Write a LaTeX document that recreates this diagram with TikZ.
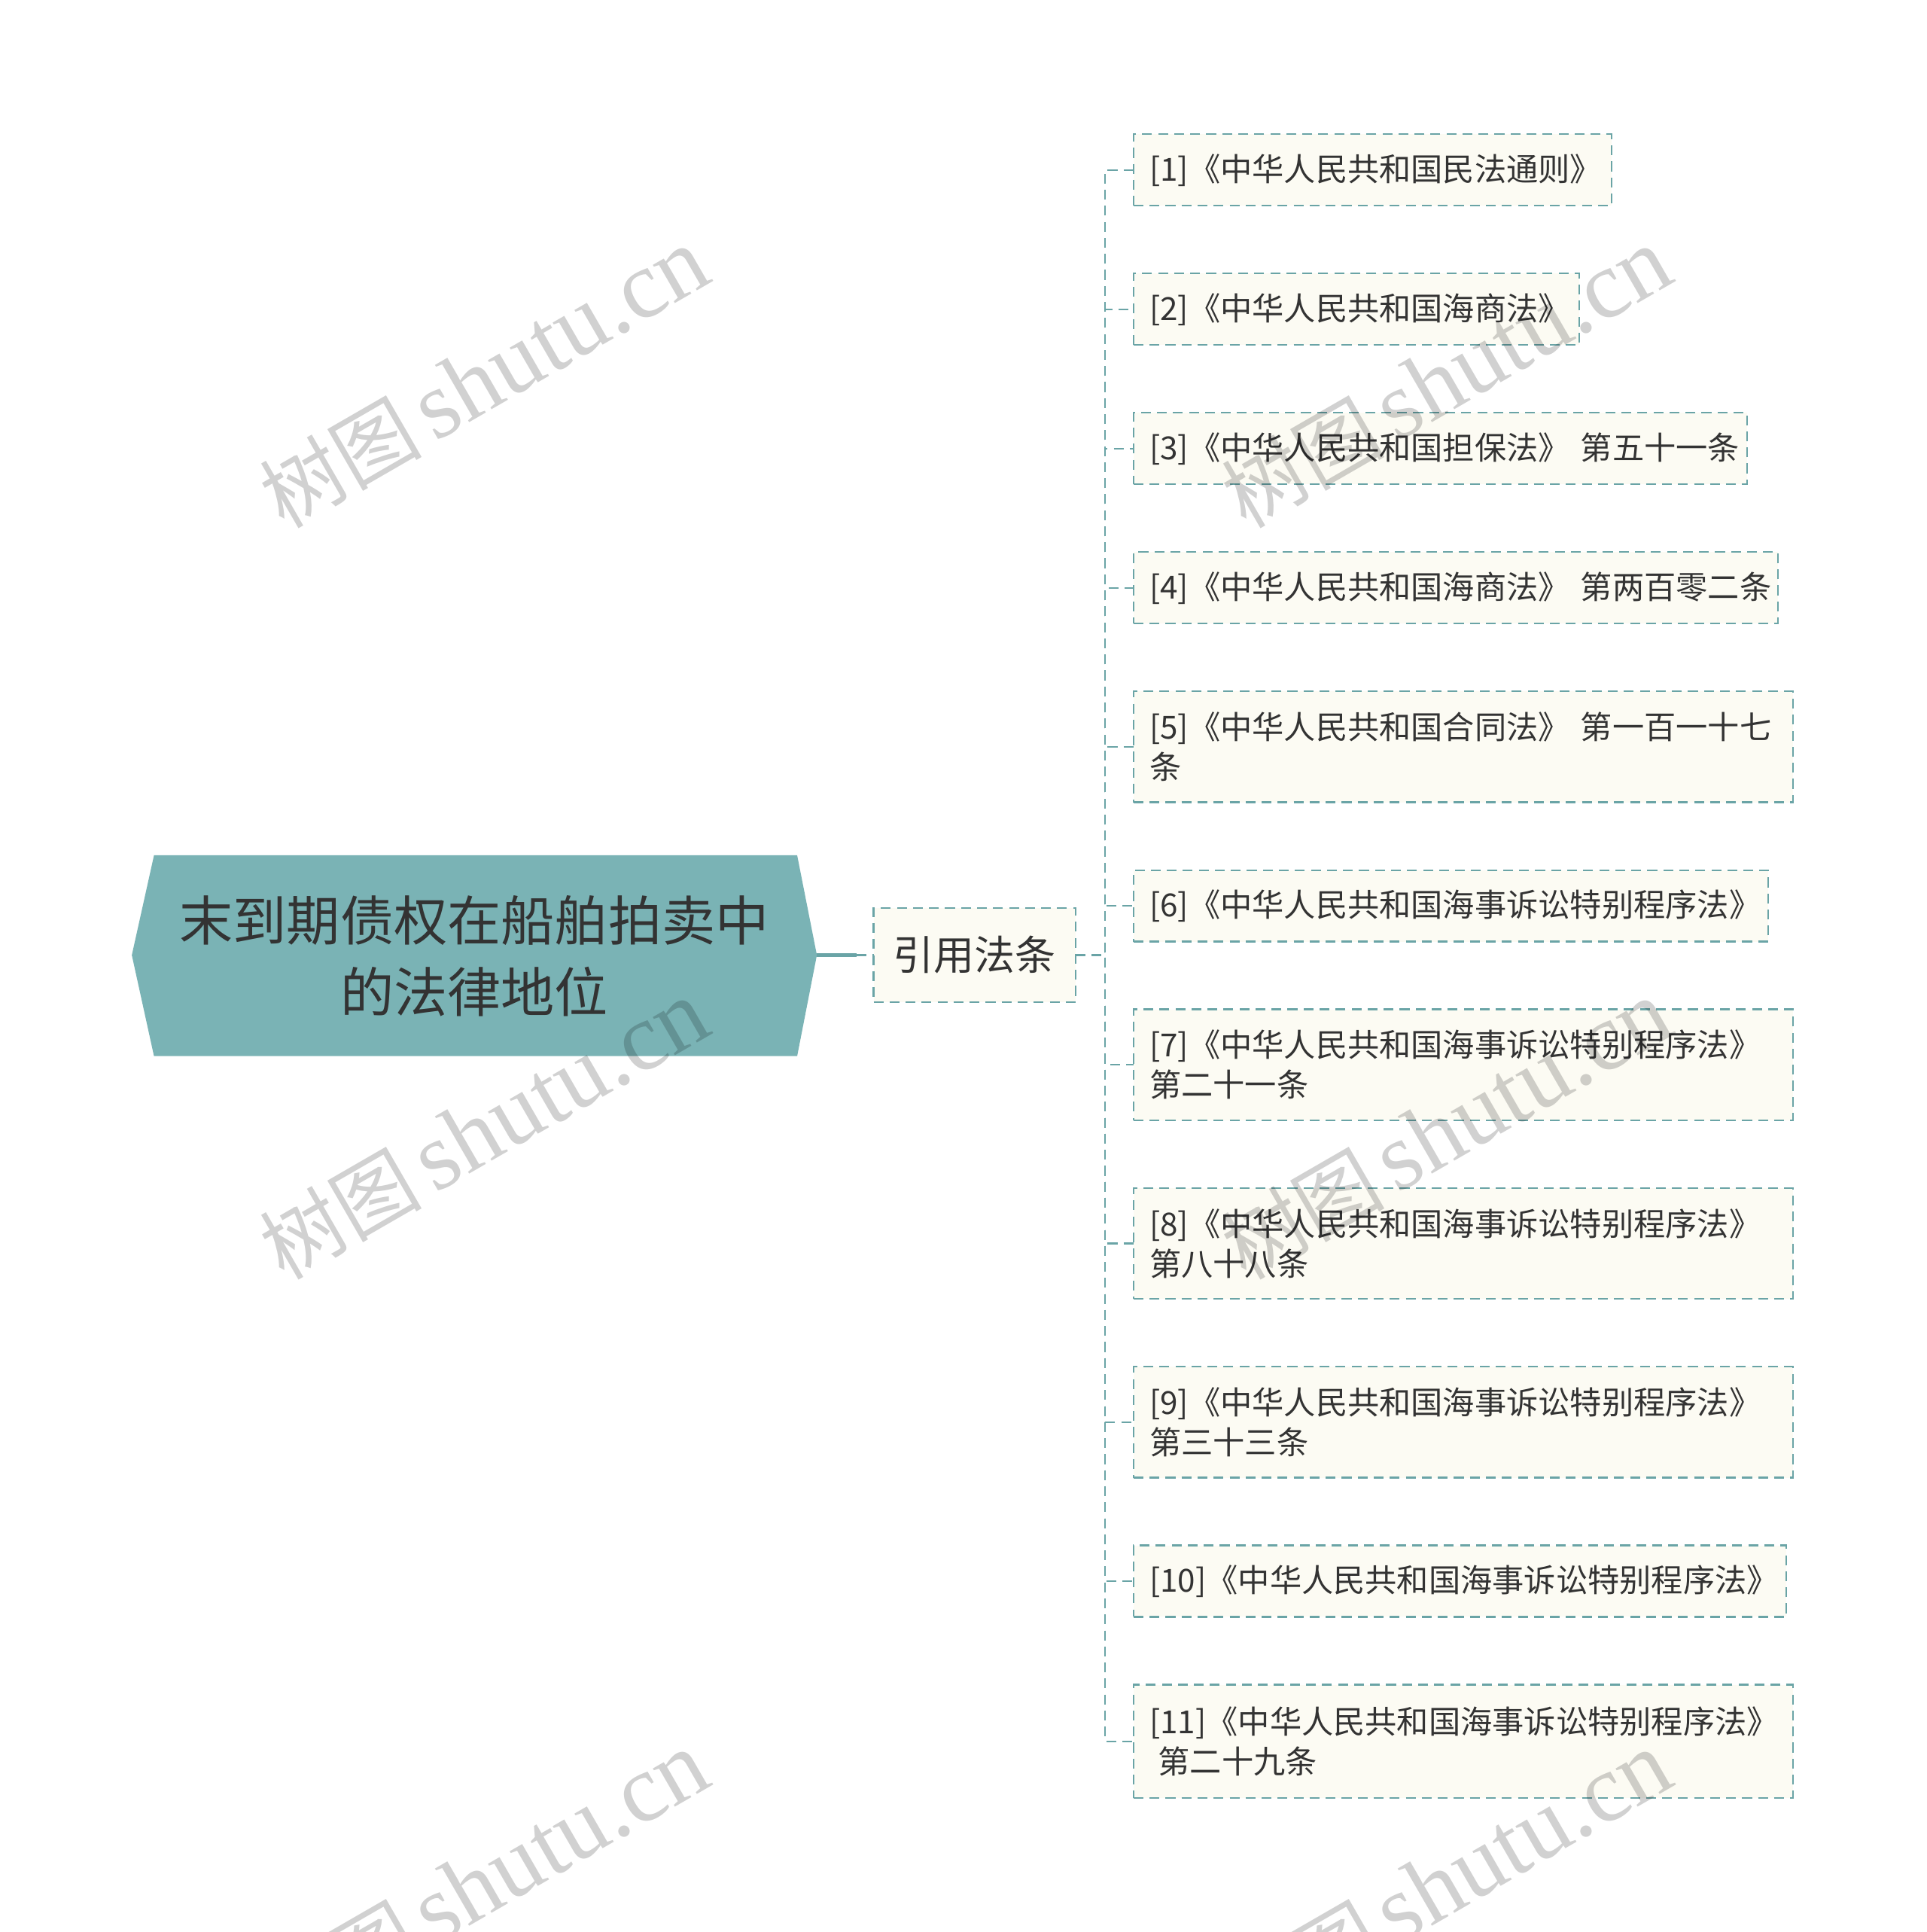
\documentclass[tikz,border=0pt]{standalone}
\usepackage{fontspec}
\setmainfont{Liberation Serif}
\newfontfamily\cjk{Noto Sans CJK SC}
\definecolor{lc}{HTML}{6AA4A6}
\definecolor{rootfill}{HTML}{7AB3B5}
\definecolor{cream}{HTML}{FCFBF3}
\definecolor{tc}{HTML}{333333}
\tikzset{
  dline/.style={draw=lc, line width=1.3pt, dash pattern=on 8pt off 5pt},
  mainline/.style={draw=lc, line width=2.6pt},
  cbox/.style={dline, fill=cream, anchor=west, outer sep=0pt, inner xsep=13pt, inner ysep=0pt,
    align=left, text=tc, font=\cjk\fontsize{25.8}{32.5}\selectfont},
  refbox/.style={dline, fill=cream, outer sep=0pt, inner sep=0pt, minimum width=164pt, minimum height=76pt,
    text=tc, font=\cjk\fontsize{33}{40}\selectfont},
  roottext/.style={align=center, text=tc, font=\cjk\fontsize{43.5}{58}\selectfont},
  wm/.style={text=black, opacity=0.18, font=\fontsize{78}{86}\selectfont, inner sep=0pt}
}
\begin{document}
\begin{tikzpicture}[x=1pt,y=-1pt]
\fill[white] (0,0) rectangle (1564,1567.7);
\useasboundingbox (0,0) rectangle (1564,1567.7);
\clip (0,0) rectangle (1564,1567.7);

% root
\fill[rootfill] (107,775) -- (125,694) -- (647,694) -- (663,775) -- (647,857) -- (125,857) -- cycle;
\node[roottext] (root) at (385,776) {末到期债权在船舶拍卖中\\的法律地位};
\coordinate (rootE) at (663,775);
\coordinate (j1) at (695,775);

% level 1
\node[refbox] (ref) at (791,775) {引用法条};
\draw[mainline] (rootE) -- (j1);
\draw[dline] (j1) -- (ref.west);

% children
\node[cbox, text width=362pt, minimum height=58pt] (c1) at (920,138) {[1]《中华人民共和国民法通则》};
\node[cbox, text width=336pt, minimum height=58pt] (c2) at (920,251) {[2]《中华人民共和国海商法》};
\node[cbox, text width=472pt, minimum height=58pt] (c3) at (920,364) {[3]《中华人民共和国担保法》~第五十一条};
\node[cbox, text width=497pt, minimum height=58pt] (c4) at (920,477) {[4]《中华人民共和国海商法》~第两百零二条};
\node[cbox, text width=509pt, minimum height=90pt] (c5) at (920,606) {[5]《中华人民共和国合同法》~第一百一十七\\条};
\node[cbox, text width=489pt, minimum height=58pt] (c6) at (920,735) {[6]《中华人民共和国海事诉讼特别程序法》};
\node[cbox, text width=509pt, minimum height=90pt] (c7) at (920,864) {[7]《中华人民共和国海事诉讼特别程序法》\\第二十一条};
\node[cbox, text width=509pt, minimum height=90pt] (c8) at (920,1009) {[8]《中华人民共和国海事诉讼特别程序法》\\第八十八条};
\node[cbox, text width=509pt, minimum height=90pt] (c9) at (920,1154) {[9]《中华人民共和国海事诉讼特别程序法》\\第三十三条};
\node[cbox, text width=504pt, minimum height=58pt] (c10) at (920,1283) {[10]《中华人民共和国海事诉讼特别程序法》};
\node[cbox, text width=509pt, minimum height=92pt] (c11) at (920,1413) {[11]《中华人民共和国海事诉讼特别程序法》\\\hspace*{7pt}第二十九条};

\foreach \c in {c1,c2,c3,c4,c5,c6,c7,c8,c9,c10,c11}
  \draw[dline] (ref.east) -- ++(24,0) |- (\c.west);

% watermarks
\foreach \px/\py [count=\i] in {393/307, 1174/307, 393/917, 1174/917, 393/1527, 1174/1527}
  \node[wm, rotate=30] (wm\i) at (\px,\py) {{\cjk\fontsize{66}{80}\selectfont 树图}\hspace{10pt}shutu.cn};
\end{tikzpicture}
\end{document}
